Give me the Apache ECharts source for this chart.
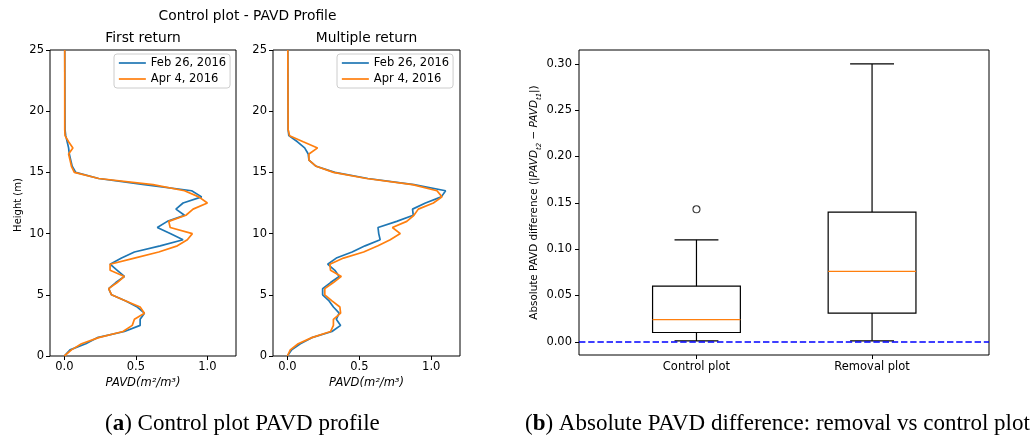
<!DOCTYPE html>
<html>
<head>
<meta charset="utf-8">
<script src="https://cdn.jsdelivr.net/npm/echarts@6/dist/echarts.min.js"></script>
<style>
  html, body { margin: 0; padding: 0; background: #fff; }
  #chart { width: 1034px; height: 438px; }
</style>
</head>
<body>
<div id="chart"></div>
<script>
// Canopy height bins (m)
const heights = [0, 0.5, 1, 1.5, 2, 2.5, 3, 3.5, 4, 4.5, 5, 5.5, 6, 6.5, 7, 7.5, 8, 8.5, 9, 9.5,
  10, 10.5, 11, 11.5, 12, 12.5, 13, 13.5, 14, 14.5, 15, 15.5, 16, 16.5, 17, 17.5, 18, 18.5, 25];

// First-return PAVD profiles (m2/m3)
const firstFeb = [0, 0.04, 0.15, 0.23, 0.42, 0.53, 0.53, 0.56, 0.51, 0.43, 0.33, 0.31, 0.36, 0.42, 0.37, 0.32,
  0.40, 0.49, 0.67, 0.83, 0.74, 0.65, 0.72, 0.84, 0.78, 0.83, 0.96, 0.89, 0.56, 0.24,
  0.08, 0.055, 0.045, 0.035, 0.03, 0.02, 0.01, 0.005, 0.003];
const firstApr = [0, 0.05, 0.12, 0.24, 0.41, 0.475, 0.49, 0.56, 0.53, 0.43, 0.33, 0.31, 0.37, 0.42, 0.32, 0.32,
  0.49, 0.66, 0.79, 0.86, 0.895, 0.74, 0.73, 0.85, 0.90, 1.0, 0.94, 0.84, 0.62, 0.24,
  0.07, 0.05, 0.04, 0.03, 0.06, 0.03, 0.005, 0.003, 0.003];

// Multiple-return PAVD profiles (m2/m3)
const multiFeb = [0, 0.03, 0.09, 0.17, 0.31, 0.37, 0.34, 0.36, 0.32, 0.29, 0.245, 0.245, 0.30, 0.36, 0.33, 0.28,
  0.34, 0.45, 0.54, 0.645, 0.635, 0.63, 0.76, 0.875, 0.87, 0.96, 1.07, 1.10, 0.88, 0.56,
  0.33, 0.20, 0.15, 0.145, 0.12, 0.07, 0.01, 0.005, 0.003];
const multiApr = [0, 0.02, 0.075, 0.17, 0.30, 0.32, 0.32, 0.37, 0.365, 0.31, 0.26, 0.26, 0.32, 0.375, 0.30, 0.295,
  0.39, 0.53, 0.63, 0.715, 0.785, 0.73, 0.83, 0.88, 0.91, 1.015, 1.075, 1.04, 0.87, 0.55,
  0.32, 0.20, 0.15, 0.15, 0.21, 0.11, 0.015, 0.005, 0.003];

const seriesNames = ['Feb 26, 2016', 'Apr 4, 2016'];
const profileTicks = [0, 0.5, 1.0];
const heightTicks = [0, 5, 10, 15, 20, 25];

// Box plot statistics of |PAVD_t2 - PAVD_t1|
const boxCategories = ['Control plot', 'Removal plot'];
const whiskerLow = [0.001, 0.001];
const quartile1 = [0.010, 0.031];
const medians = [0.024, 0.076];
const quartile3 = [0.060, 0.140];
const whiskerHigh = [0.110, 0.300];
const outlierPlot = [1];
const outlierValue = [0.143];
const diffTicks = [0, 0.05, 0.1, 0.15, 0.2, 0.25, 0.3];

const BLUE = '#1f77b4', ORANGE = '#ff7f0e';
const FONT = 'DejaVu Sans';

const chart = echarts.init(document.getElementById('chart'), null, { renderer: 'canvas' });

const toPairs = (vals) => heights.map((h, i) => [vals[i], h]);

function profileSeries(name, vals, color, idx) {
  return {
    type: 'line', name, xAxisIndex: idx, yAxisIndex: idx,
    data: toPairs(vals), symbol: 'none', showSymbol: false,
    lineStyle: { color, width: 1.7 }, itemStyle: { color },
    animation: false, z: 3
  };
}

const tickStyle = { color: '#000', width: 1 };

function profileX(idx) {
  return {
    type: 'value', gridIndex: idx, min: -0.1, max: 1.2,
    axisLine: { show: false, onZero: false }, splitLine: { show: false },
    axisTick: { show: true, length: 4, customValues: profileTicks, lineStyle: tickStyle },
    axisLabel: { customValues: profileTicks, margin: 5, fontSize: 11.5, fontFamily: FONT, color: '#000',
      formatter: (v) => v.toFixed(1) }
  };
}
function profileY(idx) {
  return {
    type: 'value', gridIndex: idx, min: 0, max: 25,
    axisLine: { show: false, onZero: false }, splitLine: { show: false },
    axisTick: { show: true, length: 4, customValues: heightTicks, lineStyle: tickStyle },
    axisLabel: { customValues: heightTicks, margin: 6, fontSize: 11.5, fontFamily: FONT, color: '#000' }
  };
}

function legendAt(left) {
  return {
    data: seriesNames, orient: 'vertical', left, top: 54,
    itemWidth: 27, itemHeight: 14, itemGap: 4, padding: [3, 4],
    borderColor: '#cccccc', borderWidth: 1, borderRadius: 3,
    backgroundColor: 'rgba(255,255,255,0.8)',
    itemStyle: { opacity: 0 },
    lineStyle: { width: 1.7 },
    textStyle: { fontSize: 11.5, fontFamily: FONT, color: '#000' },
    selectedMode: false
  };
}

function renderBox(params, api) {
  const pos = api.value(0);
  const lo = api.value(1), q1 = api.value(2), md = api.value(3), q3 = api.value(4), hi = api.value(5);
  const halfBox = api.size([0.5, 0])[0] / 2;
  const halfCap = halfBox / 2;
  const c = (v) => api.coord([pos, v]);
  const pLo = c(lo), pQ1 = c(q1), pMd = c(md), pQ3 = c(q3), pHi = c(hi);
  const x = pLo[0];
  const stroke = { stroke: '#000', lineWidth: 1.2, fill: null };
  return {
    type: 'group',
    children: [
      { type: 'line', shape: { x1: x, y1: pLo[1], x2: x, y2: pQ1[1] }, style: stroke },
      { type: 'line', shape: { x1: x, y1: pQ3[1], x2: x, y2: pHi[1] }, style: stroke },
      { type: 'line', shape: { x1: x - halfCap, y1: pLo[1], x2: x + halfCap, y2: pLo[1] }, style: stroke },
      { type: 'line', shape: { x1: x - halfCap, y1: pHi[1], x2: x + halfCap, y2: pHi[1] }, style: stroke },
      { type: 'rect', shape: { x: x - halfBox, y: pQ3[1], width: halfBox * 2, height: pQ1[1] - pQ3[1] }, style: stroke },
      { type: 'line', shape: { x1: x - halfBox, y1: pMd[1], x2: x + halfBox, y2: pMd[1] },
        style: { stroke: ORANGE, lineWidth: 1.2 } }
    ]
  };
}

const boxData = boxCategories.map((_, i) => [i + 1, whiskerLow[i], quartile1[i], medians[i], quartile3[i], whiskerHigh[i]]);

const option = {
  animation: false,
  grid: [
    { left: 50, top: 50, width: 186, height: 306, show: true, borderColor: '#000', borderWidth: 1, backgroundColor: 'transparent' },
    { left: 273, top: 50, width: 187, height: 306, show: true, borderColor: '#000', borderWidth: 1, backgroundColor: 'transparent' },
    { left: 579, top: 50, width: 410, height: 305, show: true, borderColor: '#000', borderWidth: 1, backgroundColor: 'transparent' }
  ],
  xAxis: [
    profileX(0), profileX(1),
    {
      type: 'value', gridIndex: 2, min: 0.331, max: 2.666,
      axisLine: { show: false, onZero: false }, splitLine: { show: false },
      axisTick: { show: true, length: 4, customValues: [1, 2], lineStyle: tickStyle },
      axisLabel: { customValues: [1, 2], margin: 6, fontSize: 11.5, fontFamily: FONT, color: '#000',
        formatter: (v) => boxCategories[Math.round(v) - 1] || '' }
    }
  ],
  yAxis: [
    profileY(0), profileY(1),
    {
      type: 'value', gridIndex: 2, min: -0.0143, max: 0.315,
      axisLine: { show: false, onZero: false }, splitLine: { show: false },
      axisTick: { show: true, length: 4, customValues: diffTicks, lineStyle: tickStyle },
      axisLabel: { customValues: diffTicks, margin: 7, fontSize: 11.5, fontFamily: FONT, color: '#000',
        formatter: (v) => v.toFixed(2) }
    }
  ],
  legend: [legendAt(114), legendAt(337)],
  series: [
    profileSeries(seriesNames[0], firstFeb, BLUE, 0),
    profileSeries(seriesNames[1], firstApr, ORANGE, 0),
    profileSeries(seriesNames[0], multiFeb, BLUE, 1),
    profileSeries(seriesNames[1], multiApr, ORANGE, 1),
    {
      type: 'custom', name: 'box', xAxisIndex: 2, yAxisIndex: 2,
      renderItem: renderBox, data: boxData,
      encode: { x: 0, y: [1, 2, 3, 4, 5] }, z: 3, silent: true
    },
    {
      type: 'scatter', name: 'outliers', xAxisIndex: 2, yAxisIndex: 2,
      data: outlierPlot.map((p, i) => [p, outlierValue[i]]),
      symbol: 'circle', symbolSize: 7,
      itemStyle: { color: 'rgba(0,0,0,0)', borderColor: '#000', borderWidth: 1.1 },
      silent: true, z: 4,
      markLine: {
        silent: true, symbol: 'none', label: { show: false },
        lineStyle: { color: '#0000ff', width: 1.7, type: [6.4, 2.8] },
        data: [{ yAxis: 0 }]
      }
    }
  ],
  graphic: [
    { type: 'text', x: 247.5, y: 16, style: { text: 'Control plot - PAVD Profile', font: '13.8px "DejaVu Sans"', fill: '#000', align: 'center', verticalAlign: 'middle' } },
    { type: 'text', x: 143, y: 38, style: { text: 'First return', font: '13.8px "DejaVu Sans"', fill: '#000', align: 'center', verticalAlign: 'middle' } },
    { type: 'text', x: 366.5, y: 38, style: { text: 'Multiple return', font: '13.8px "DejaVu Sans"', fill: '#000', align: 'center', verticalAlign: 'middle' } },
    { type: 'text', x: 18, y: 205, rotation: Math.PI / 2, style: { text: 'Height (m)', font: '10px "DejaVu Sans"', fill: '#000', align: 'center', verticalAlign: 'middle' } },
    { type: 'text', x: 143, y: 383, style: { text: 'PAVD(m²/m³)', font: 'italic 11.5px "DejaVu Sans"', fill: '#000', align: 'center', verticalAlign: 'middle' } },
    { type: 'text', x: 366.5, y: 383, style: { text: 'PAVD(m²/m³)', font: 'italic 11.5px "DejaVu Sans"', fill: '#000', align: 'center', verticalAlign: 'middle' } },
    {
      type: 'text', x: 534, y: 202.5, rotation: Math.PI / 2,
      style: {
        text: '{n|Absolute PAVD difference (|}{i|PAVD}{s|t2}{n| − }{i|PAVD}{s|t1}{n||)}',
        align: 'center', verticalAlign: 'middle', fill: '#000',
        rich: {
          n: { fontFamily: FONT, fontSize: 10.4, lineHeight: 14, verticalAlign: 'middle' },
          i: { fontFamily: FONT, fontSize: 10.4, fontStyle: 'italic', lineHeight: 14, verticalAlign: 'middle' },
          s: { fontFamily: FONT, fontSize: 7, fontStyle: 'italic', lineHeight: 14, verticalAlign: 'bottom', padding: [0, 0, -2, 0] }
        }
      }
    },
    {
      type: 'text', x: 105, y: 424,
      style: {
        text: '{p|(}{b|a}{p|)} Control plot PAVD profile',
        font: '23px "Liberation Serif"', fill: '#000', align: 'left', verticalAlign: 'middle',
        rich: {
          p: { fontFamily: 'Liberation Serif', fontSize: 23 },
          b: { fontFamily: 'Liberation Serif', fontSize: 23, fontWeight: 'bold' }
        }
      }
    },
    {
      type: 'text', x: 525, y: 424,
      style: {
        text: '{p|(}{b|b}{p|)} Absolute PAVD difference: removal vs control plot',
        font: '23px "Liberation Serif"', fill: '#000', align: 'left', verticalAlign: 'middle',
        rich: {
          p: { fontFamily: 'Liberation Serif', fontSize: 23 },
          b: { fontFamily: 'Liberation Serif', fontSize: 23, fontWeight: 'bold' }
        }
      }
    }
  ]
};

chart.setOption(option);
</script>
</body>
</html>
